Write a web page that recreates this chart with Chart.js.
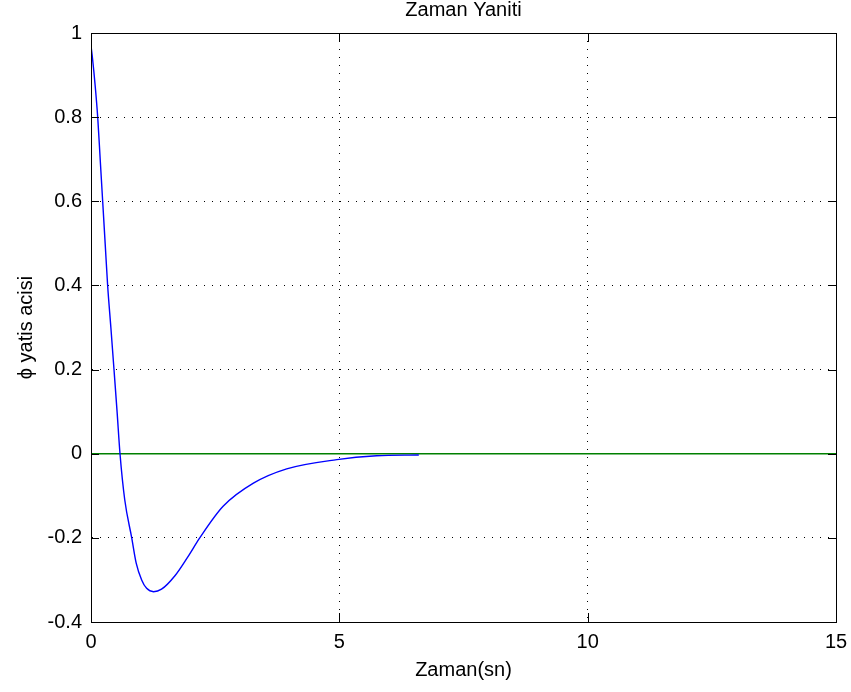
<!DOCTYPE html>
<html>
<head>
<meta charset="utf-8">
<script src="https://cdn.jsdelivr.net/npm/chart.js@4"></script>
<style>
  body { margin: 0; background: #fff; }
  #wrap { width: 851px; height: 692px; }
</style>
</head>
<body>
<div id="wrap"><canvas id="chart1" width="851" height="692"></canvas></div>
<script>
// values
const timeVals = [0, 0.03, 0.08, 0.135, 0.185, 0.235, 0.285, 0.335, 0.40, 0.463, 0.525, 0.584,
  0.68, 0.82, 0.91, 1.02, 1.12, 1.26, 1.42, 1.69, 1.95, 2.19, 2.66, 3.27, 3.94, 4.95, 5.75, 6.6]
const phiVals = [0.97, 0.94, 0.88, 0.80, 0.70, 0.60, 0.50, 0.40, 0.30, 0.20, 0.10, 0.0,
  -0.11, -0.20, -0.26, -0.30, -0.32, -0.328, -0.322, -0.29, -0.245, -0.20, -0.125, -0.07, -0.036, -0.014, -0.005, -0.003]
const refTime = [0, 15]
const refVals = [0, 0]
const xTicks = [0, 5, 10, 15]
const yTicks = [-0.4, -0.2, 0, 0.2, 0.4, 0.6, 0.8, 1]
const yTickLabels = ['-0.4', '-0.2', '0', '0.2', '0.4', '0.6', '0.8', '1']

const FONT = 'Arial, "Liberation Sans", sans-serif'

// box round the plot + inward ticks, matlab style
const boxPlugin = {
  id: 'box',
  afterDraw(chart) {
    const ctx = chart.ctx, a = chart.chartArea
    const xs = chart.scales.x, ys = chart.scales.y
    ctx.save()
    ctx.strokeStyle = '#000'
    ctx.lineWidth = 1
    ctx.setLineDash([])
    ctx.beginPath()
    xTicks.forEach(v => {
      const px = Math.round(xs.getPixelForValue(v)) + 0.5
      ctx.moveTo(px, a.bottom); ctx.lineTo(px, a.bottom - 9)
      ctx.moveTo(px, a.top); ctx.lineTo(px, a.top + 9)
    })
    yTicks.forEach(v => {
      const py = Math.round(ys.getPixelForValue(v)) + 0.5
      ctx.moveTo(a.left, py); ctx.lineTo(a.left + 8, py)
      ctx.moveTo(a.right, py); ctx.lineTo(a.right - 8, py)
    })
    ctx.stroke()
    ctx.strokeRect(Math.round(a.left) + 0.5, Math.round(a.top) + 0.5,
      Math.round(a.right - a.left), Math.round(a.bottom - a.top))
    ctx.restore()
  }
}

const data = {
  datasets: [{
    label: 'phi',
    data: timeVals.map((t, i) => ({ x: t, y: phiVals[i] })),
    borderColor: '#0000ff',
    borderWidth: 1.4,
    pointRadius: 0,
    cubicInterpolationMode: 'monotone',
    fill: false
  }, {
    label: 'ref',
    data: refTime.map((t, i) => ({ x: t, y: refVals[i] })),
    borderColor: '#008000',
    borderWidth: 1.5,
    pointRadius: 0,
    fill: false
  }]
}

const config = {
  type: 'line',
  data: data,
  options: {
    responsive: false,
    animation: false,
    layout: { padding: { left: 0, right: 15, top: 0, bottom: 0 } },
    plugins: {
      legend: { display: false },
      tooltip: { enabled: false },
      title: {
        display: true,
        text: 'Zaman Yaniti',
        fullSize: false,
        color: '#000',
        font: { family: FONT, size: 20, weight: 'normal' },
        padding: { top: -2, bottom: 11 }
      }
    },
    scales: {
      x: {
        type: 'linear',
        min: 0, max: 15,
        afterBuildTicks: s => { s.ticks = xTicks.map(v => ({ value: v })) },
        afterFit: s => { s.height = 70; s.paddingLeft = 0; s.paddingRight = 0 },
        ticks: {
          color: '#000',
          padding: 8,
          font: { family: FONT, size: 20 },
          callback: v => String(v)
        },
        grid: { color: '#000', drawTicks: false, lineWidth: 1 },
        border: { display: true, color: '#000', dash: [1, 7] },
        title: {
          display: true,
          text: 'Zaman(sn)',
          color: '#000',
          font: { family: FONT, size: 20 },
          padding: { top: 0, bottom: 10 }
        }
      },
      y: {
        type: 'linear',
        min: -0.4, max: 1,
        afterBuildTicks: s => { s.ticks = yTicks.map(v => ({ value: v })) },
        afterFit: s => { s.width = 91 },
        ticks: {
          color: '#000',
          padding: 9,
          font: { family: FONT, size: 20 },
          callback: (v, i) => yTickLabels[i]
        },
        grid: { color: '#000', drawTicks: false, lineWidth: 1 },
        border: { display: true, color: '#000', dash: [1, 7] },
        title: {
          display: true,
          text: 'ϕ yatis acisi',
          color: '#000',
          font: { family: FONT, size: 20 },
          padding: { top: 14, bottom: 0 }
        }
      }
    }
  },
  plugins: [boxPlugin]
}

const myChart = new Chart(document.getElementById('chart1'), config)
</script>
</body>
</html>
